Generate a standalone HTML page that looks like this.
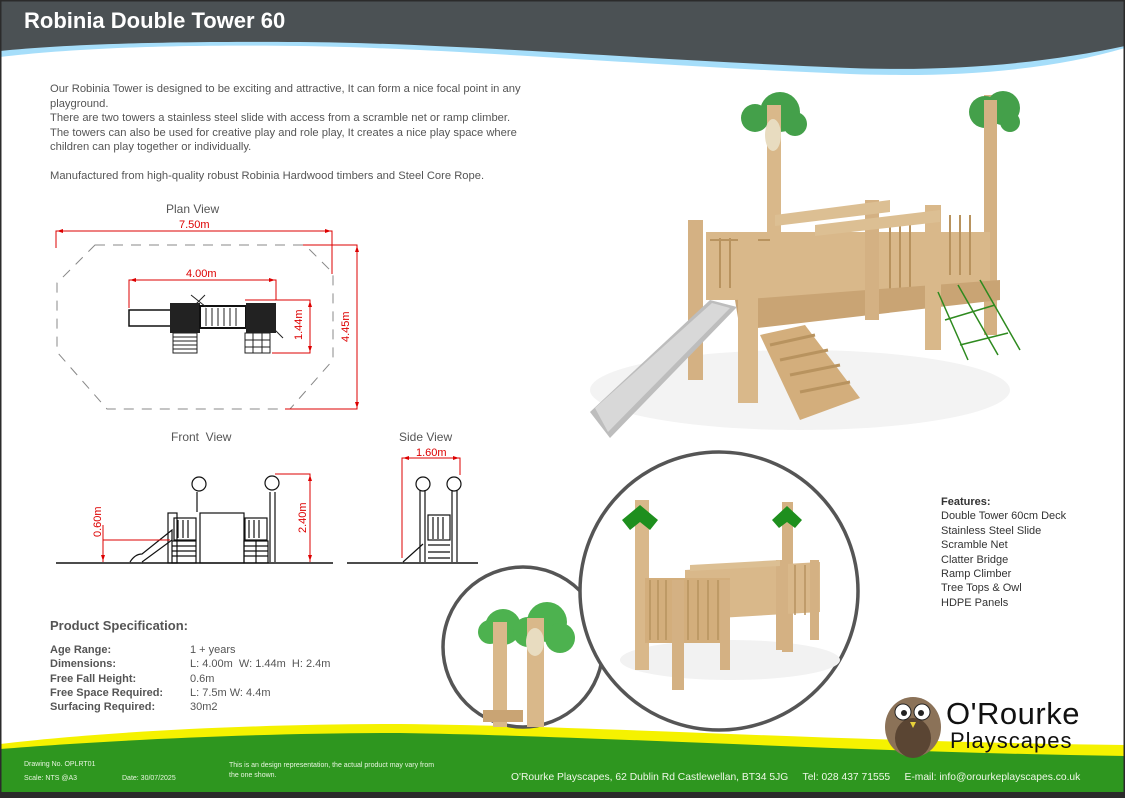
<!DOCTYPE html>
<html><head><meta charset="utf-8"><style>
html,body{margin:0;padding:0;}
body{width:1125px;height:798px;position:relative;overflow:hidden;background:#fff;font-family:"Liberation Sans",sans-serif;}
.t{position:absolute;white-space:nowrap;color:#444;}
</style></head><body>
<svg width="1125" height="798" style="position:absolute;left:0;top:0" xmlns="http://www.w3.org/2000/svg">
<!-- header -->
<path d="M0 0H1125V48C1050 70 960 78 850 74C650 66 450 48 300 46C150 44 60 50 0 57Z" fill="#a6defa"/>
<path d="M0 0H1125V46C1050 62 960 72 850 68C650 60 450 43 300 42C150 41 60 45 0 51Z" fill="#4b5154"/>
<!-- footer -->
<path d="M0 744C100 732 250 724 400 724C600 726 850 742 1125 745V798H0Z" fill="#f5f200"/>
<path d="M0 749C100 741 250 733 400 733C600 736 850 752 1125 756V798H0Z" fill="#2e961f"/>
<rect x="0" y="792" width="1125" height="6" fill="#2b2b2b"/>
<rect x="0" y="0" width="1125" height="798" fill="none" stroke="#2b2b2b" stroke-width="3"/>

<!-- Plan view drawing -->
<g fill="none" stroke-width="1">
<path d="M95 245H305L333 273V360L290 409H107L57 352V283Z" stroke="#888" stroke-dasharray="10,8"/>
<path d="M56 248V231H332V274" stroke="#d00"/>
<path d="M303 245H357V409H285" stroke="#d00"/>
<path d="M129 308V280H276V300" stroke="#d00"/>
<path d="M245 300H310V353H272" stroke="#d00"/>
</g>
<g fill="#d00">
<path d="M57 231l6 -2v4zM331 231l-6 -2v4zM130 280l6 -2v4zM275 280l-6 -2v4zM357 246l-2 6h4zM357 408l-2 -6h4zM310 301l-2 6h4zM310 352l-2 -6h4z"/>
</g>
<g>
<rect x="129" y="310" width="42" height="16" fill="#fff" stroke="#111" stroke-width="1.5"/>
<rect x="170" y="303" width="30" height="30" fill="#222"/>
<rect x="200" y="306" width="46" height="22" fill="#fff" stroke="#111" stroke-width="2"/>
<path d="M206 308v18M212 308v18M218 308v18M224 308v18M230 308v18M236 308v18" stroke="#222"/>
<rect x="246" y="303" width="30" height="30" fill="#222"/>
<rect x="173" y="333" width="24" height="20" fill="#fff" stroke="#222"/>
<path d="M173 337h24M173 341h24M173 345h24M173 349h24" stroke="#222"/>
<rect x="245" y="333" width="25" height="20" fill="#fff" stroke="#222"/>
<path d="M245 340h25M245 347h25M253 333v20M262 333v20" stroke="#222"/>
<path d="M191 295l15 12M205 295l-12 12M275 330l8 8" stroke="#222"/>
</g>
<!-- Front view -->
<g stroke="#111" fill="none" stroke-width="1.2">
<path d="M56 563H333M347 563H478" stroke-width="1.5"/>
<path d="M130 562q5-8 12-8l30-24v10l-30 22" />
<rect x="168" y="513" width="9" height="50"/><rect x="200" y="513" width="44" height="50"/>
<rect x="174" y="518" width="22" height="22"/><rect x="245" y="518" width="22" height="22"/>
<path d="M178 520v18M183 520v18M188 520v18M249 520v18M254 520v18M259 520v18"/>
<rect x="172" y="541" width="24" height="22"/><rect x="244" y="541" width="24" height="22"/>
<path d="M172 546h24M172 551h24M172 556h24M244 546h24M244 551h24M244 556h24M256 541v22"/>
<path d="M197 492v20M270 492v70M275 492v70"/>
<circle cx="199" cy="484" r="7"/><circle cx="272" cy="483" r="7"/>
<!-- side -->
<path d="M403 562l20-18M420 490v72M425 490v72M452 490v72M457 490v72"/>
<circle cx="423" cy="484" r="7"/><circle cx="454" cy="484" r="7"/>
<rect x="428" y="515" width="22" height="25"/><path d="M433 517v22M438 517v22M443 517v22M428 545h22M428 552h22M428 558h22"/>
</g>
<g stroke="#d00" fill="none" stroke-width="1">
<path d="M103 525V562M103 540H170"/>
<path d="M275 474H310V562"/>
<path d="M402 558V458H460V475"/>
</g>
<g fill="#d00"><path d="M103 561l-2-6h4zM310 475l-2 6h4zM310 561l-2-6h4zM403 458l6-2v4zM459 458l-6-2v4z"/></g>

<!-- main render -->
<g>
<ellipse cx="800" cy="390" rx="210" ry="40" fill="#f3f3f3"/>
<rect x="767" y="105" width="14" height="200" fill="#d9b88a"/>
<rect x="984" y="95" width="13" height="240" fill="#d4b183"/>
<circle cx="755" cy="118" r="14" fill="#44a04a"/><circle cx="780" cy="112" r="20" fill="#44a04a"/><circle cx="795" cy="124" r="12" fill="#44a04a"/>
<circle cx="985" cy="112" r="16" fill="#44a04a"/><circle cx="1003" cy="108" r="17" fill="#44a04a"/><circle cx="1010" cy="122" r="10" fill="#44a04a"/>
<rect x="767" y="105" width="14" height="60" fill="#d9b88a"/><rect x="984" y="100" width="13" height="50" fill="#d4b183"/>
<ellipse cx="773" cy="135" rx="8" ry="16" fill="#e8dcc0"/>
<path d="M706 232H990V300H706Z" fill="#d9b88a"/>
<path d="M710 240h60M720 238v50M730 238v50M740 238v50M890 220v70M900 220v70M910 220v70M950 215v60M960 215v60M970 215v60" stroke="#b8935f" stroke-width="2"/>
<path d="M735 300L1000 280L1000 300L740 330Z" fill="#c9a474"/>
<rect x="688" y="220" width="15" height="160" fill="#d4b183"/>
<rect x="738" y="238" width="20" height="165" fill="#d9b88a"/>
<rect x="865" y="200" width="14" height="120" fill="#d4b183"/>
<rect x="925" y="205" width="16" height="145" fill="#d9b88a"/>
<path d="M775 215L890 200L890 212L775 226Z" fill="#dcbf93"/>
<path d="M815 225L940 210L940 222L815 236Z" fill="#dcbf93"/>
<path d="M590 412L710 300L737 307L610 438Z" fill="#bdbdbd"/>
<path d="M595 408L712 303L730 308L608 432Z" fill="#d8d8d8"/>
<path d="M760 335L805 325L860 398L800 420Z" fill="#d3ae7c"/>
<path d="M770 345l45-10M780 360l48-10M790 375l50-10M800 392l50-10" stroke="#b8935f" stroke-width="3"/>
<g stroke="#2e8a1f" stroke-width="1.5"><path d="M938 292l30 68M958 285l40 70M980 280l40 70M945 320l50-15M960 345l48-12"/></g>
</g>

<!-- circles -->
<circle cx="523" cy="647" r="80" fill="#fff" stroke="#555" stroke-width="3.5"/>
<g>
<circle cx="503" cy="627" r="18" fill="#4db24f"/><circle cx="490" cy="632" r="12" fill="#4db24f"/>
<circle cx="547" cy="622" r="20" fill="#4db24f"/><circle cx="528" cy="632" r="15" fill="#4db24f"/><circle cx="560" cy="638" r="15" fill="#4db24f"/>
<rect x="493" y="622" width="14" height="105" fill="#d9b88a"/>
<rect x="527" y="618" width="17" height="109" fill="#d9b88a"/>
<ellipse cx="535" cy="642" rx="9" ry="14" fill="#e8dcc0"/>
<rect x="483" y="710" width="40" height="12" fill="#c9a474"/>
</g>
<circle cx="719" cy="591" r="139" fill="#fff" stroke="#555" stroke-width="3.5"/>
<g>
<ellipse cx="730" cy="660" rx="110" ry="20" fill="#f2f2f2"/>
<rect x="635" y="500" width="14" height="170" fill="#d9b88a"/>
<rect x="782" y="502" width="11" height="150" fill="#d4b183"/>
<path d="M622 520l18-15 18 15-8 10-10-8-10 8z" fill="#1e8f1e"/>
<path d="M772 520l15-14 15 14-7 8-8-6-8 6z" fill="#1e8f1e"/>
<path d="M685 570L820 562V612L685 620Z" fill="#d9b88a"/>
<path d="M645 578h85v65h-85z" fill="#d3ae7c"/>
<path d="M650 580v60M658 580v60M666 580v60M674 580v60M688 580v60M698 580v60M708 580v60M718 580v60M795 565v50M805 565v50" stroke="#b8935f" stroke-width="1.5"/>
<rect x="672" y="580" width="12" height="110" fill="#d4b183"/>
<rect x="720" y="580" width="10" height="90" fill="#d4b183"/>
<rect x="776" y="560" width="12" height="90" fill="#d4b183"/>
<rect x="810" y="560" width="9" height="80" fill="#d4b183"/>
<path d="M690 565L780 560V566L690 571Z" fill="#dcbf93"/>
</g>

<!-- owl logo -->
<g>
<ellipse cx="913" cy="727" rx="28" ry="30" fill="#8b7258"/>
<ellipse cx="913" cy="738" rx="18" ry="20" fill="#5a4533"/>
<circle cx="903" cy="712" r="8" fill="#fff" stroke="#222"/><circle cx="922" cy="712" r="8" fill="#fff" stroke="#222"/>
<circle cx="904" cy="713" r="3" fill="#222"/><circle cx="921" cy="713" r="3" fill="#222"/>
<path d="M910 722l3 6 3-6z" fill="#e8d23a"/>
</g>
</svg>

<div class="t" style="left:24px;top:8px;color:#fff;font-weight:bold;font-size:22px;">Robinia Double Tower 60</div>
<div class="t" style="left:50px;top:82px;font-size:11.2px;line-height:14.5px;color:#555;">Our Robinia Tower is designed to be exciting and attractive, It can form a nice focal point in any<br>playground.<br>There are two towers a stainless steel slide with access from a scramble net or ramp climber.<br>The towers can also be used for creative play and role play, It creates a nice play space where<br>children can play together or individually.<br><br>Manufactured from high-quality robust Robinia Hardwood timbers and Steel Core Rope.</div>
<div class="t" style="left:166px;top:202px;font-size:12px;color:#555;">Plan View</div>
<div class="t" style="left:179px;top:219px;font-size:11px;color:#d00;">7.50m</div>
<div class="t" style="left:186px;top:268px;font-size:11px;color:#d00;">4.00m</div>
<div class="t" style="left:293px;top:340px;font-size:11px;color:#d00;transform:rotate(-90deg);transform-origin:0 0;">1.44m</div>
<div class="t" style="left:340px;top:342px;font-size:11px;color:#d00;transform:rotate(-90deg);transform-origin:0 0;">4.45m</div>
<div class="t" style="left:171px;top:430px;font-size:12px;color:#555;">Front&nbsp; View</div>
<div class="t" style="left:399px;top:430px;font-size:12px;color:#555;">Side View</div>
<div class="t" style="left:416px;top:447px;font-size:11px;color:#d00;">1.60m</div>
<div class="t" style="left:92px;top:537px;font-size:11px;color:#d00;transform:rotate(-90deg);transform-origin:0 0;">0.60m</div>
<div class="t" style="left:297px;top:533px;font-size:11px;color:#d00;transform:rotate(-90deg);transform-origin:0 0;">2.40m</div>

<div class="t" style="left:50px;top:618px;font-size:13px;font-weight:bold;color:#555;">Product Specification:</div>
<div class="t" style="left:50px;top:643px;font-size:11px;line-height:14.3px;font-weight:bold;color:#555;">Age Range:<br>Dimensions:<br>Free Fall Height:<br>Free Space Required:<br>Surfacing Required:</div>
<div class="t" style="left:190px;top:643px;font-size:11px;line-height:14.3px;color:#555;">1 + years<br>L: 4.00m&nbsp; W: 1.44m&nbsp; H: 2.4m<br>0.6m<br>L: 7.5m W: 4.4m<br>30m2</div>

<div class="t" style="left:941px;top:495px;font-size:11px;line-height:14.4px;color:#333;"><b>Features:</b><br>Double Tower 60cm Deck<br>Stainless Steel Slide<br>Scramble Net<br>Clatter Bridge<br>Ramp Climber<br>Tree Tops &amp; Owl<br>HDPE Panels</div>

<div class="t" style="left:946px;top:696px;font-size:31px;color:#111;letter-spacing:0.5px;">O'Rourke</div>
<div class="t" style="left:950px;top:728px;font-size:22px;color:#111;letter-spacing:1px;">Playscapes</div>

<div class="t" style="left:24px;top:761px;font-size:7px;color:#e8f5e0;">Drawing No. OPLRT01</div>
<div class="t" style="left:24px;top:775px;font-size:7px;color:#e8f5e0;">Scale: NTS @A3</div>
<div class="t" style="left:122px;top:775px;font-size:7px;color:#e8f5e0;">Date: 30/07/2025</div>
<div class="t" style="left:229px;top:761px;font-size:7px;line-height:10px;color:#e8f5e0;">This is an design representation, the actual product may vary from<br>the one shown.</div>
<div class="t" style="left:511px;top:772px;font-size:10.3px;color:#f0f8e8;">O'Rourke Playscapes, 62 Dublin Rd Castlewellan, BT34 5JG &nbsp;&nbsp;&nbsp;&nbsp;Tel: 028 437 71555 &nbsp;&nbsp;&nbsp;&nbsp;E-mail: info@orourkeplayscapes.co.uk</div>
</body></html>
